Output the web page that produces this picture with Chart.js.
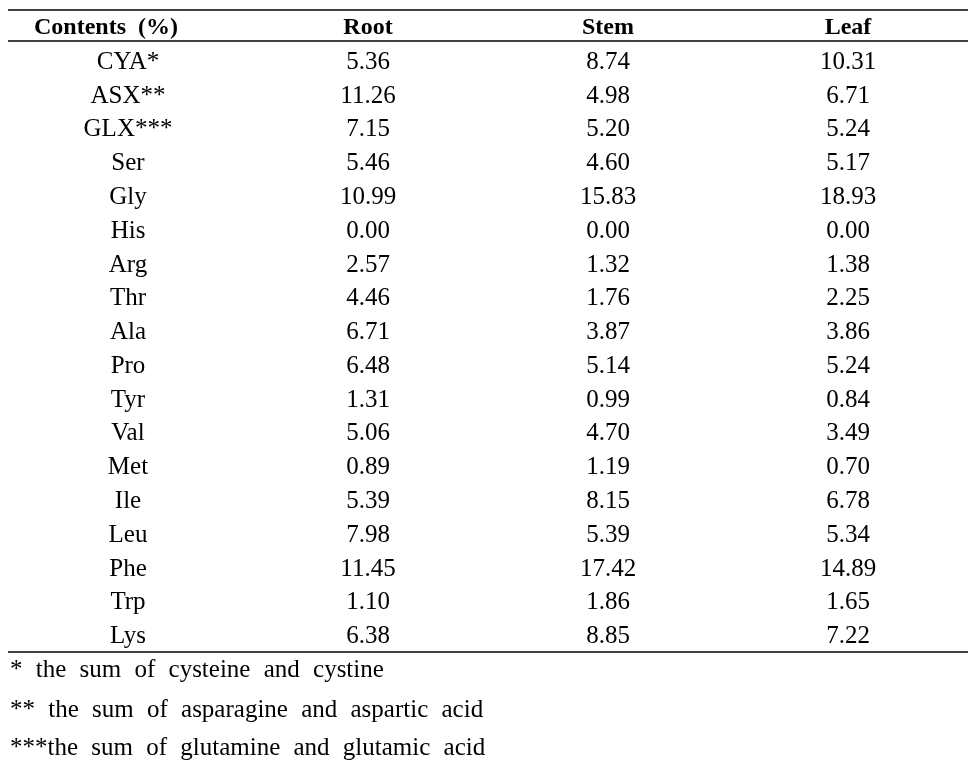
<!DOCTYPE html>
<html>
<head>
<meta charset="utf-8">
<script src="https://cdn.jsdelivr.net/npm/chart.js@4.4.1/dist/chart.umd.min.js"></script>
<style>
  body { margin: 0; background: #fff; font-family: "Liberation Serif", serif; }
  #wrap { width: 975px; height: 768px; }
</style>
</head>
<body>
<div id="wrap"><canvas id="aminoTable"></canvas></div>
<script>
// table contents
columnKeys = ['name', 'Root', 'Stem', 'Leaf'];
columnHeaders = ['Contents  (%)', 'Root', 'Stem', 'Leaf'];
aminoAcids = ['CYA*', 'ASX**', 'GLX***', 'Ser', 'Gly', 'His', 'Arg', 'Thr', 'Ala',
              'Pro', 'Tyr', 'Val', 'Met', 'Ile', 'Leu', 'Phe', 'Trp', 'Lys'];
rootValues = [5.36, 11.26, 7.15, 5.46, 10.99, 0.00, 2.57, 4.46, 6.71, 6.48, 1.31, 5.06, 0.89, 5.39, 7.98, 11.45, 1.10, 6.38];
stemValues = [8.74, 4.98, 5.20, 4.60, 15.83, 0.00, 1.32, 1.76, 3.87, 5.14, 0.99, 4.70, 1.19, 8.15, 5.39, 17.42, 1.86, 8.85];
leafValues = [10.31, 6.71, 5.24, 5.17, 18.93, 0.00, 1.38, 2.25, 3.86, 5.24, 0.84, 3.49, 0.70, 6.78, 5.34, 14.89, 1.65, 7.22];
footnotes = ['* the sum of cysteine and cystine',
             '** the sum of asparagine and aspartic acid',
             '***the sum of glutamine and glutamic acid'];

var serif = '"Liberation Serif", serif';

function cellData(key) {
    return aminoAcids.map(function (a) { return { x: key, y: a }; });
}

function hline(ctx, x1, x2, y) {
    ctx.beginPath();
    ctx.moveTo(x1, y);
    ctx.lineTo(x2, y);
    ctx.stroke();
}

// draws the text of every cell at the point the scales give it
var tablePlugin = {
    id: 'tableText',
    afterDatasetsDraw: function (chart) {
        var ctx = chart.ctx;
        var area = chart.chartArea;
        var xScale = chart.scales.x;
        ctx.save();
        ctx.fillStyle = '#000';
        ctx.strokeStyle = '#000';
        ctx.lineWidth = 1.4;
        ctx.textBaseline = 'alphabetic';
        ctx.textAlign = 'center';

        // rules
        hline(ctx, area.left, area.right, area.top - 34);
        hline(ctx, area.left, area.right, area.top - 3);
        hline(ctx, area.left, area.right, area.bottom);

        // header
        ctx.font = 'bold 24px ' + serif;
        columnHeaders.forEach(function (h, i) {
            var x = xScale.getPixelForValue(i);
            if (i === 0) x -= 22;
            ctx.fillText(h, x, area.top - 10);
        });

        // body cells
        ctx.font = '25px ' + serif;
        chart.data.datasets.forEach(function (ds, di) {
            var meta = chart.getDatasetMeta(di);
            meta.data.forEach(function (pt, j) {
                ctx.fillText(ds.texts[j], pt.x, pt.y + 8);
            });
        });

        // footnotes
        ctx.textAlign = 'left';
        ctx.wordSpacing = '7px';
        var offsets = [25, 65, 103];
        footnotes.forEach(function (f, i) {
            ctx.fillText(f, area.left + 2, area.bottom + offsets[i]);
        });
        ctx.restore();
    }
};

function build() {
    var ctx = document.getElementById('aminoTable').getContext('2d');
    aminoTable = new Chart(ctx, {
        type: 'scatter',
        data: {
            datasets: [
                { label: 'name', data: cellData('name'), texts: aminoAcids, pointRadius: 0 },
                { label: 'Root', data: cellData('Root'), texts: rootValues.map(function (v) { return v.toFixed(2); }), pointRadius: 0 },
                { label: 'Stem', data: cellData('Stem'), texts: stemValues.map(function (v) { return v.toFixed(2); }), pointRadius: 0 },
                { label: 'Leaf', data: cellData('Leaf'), texts: leafValues.map(function (v) { return v.toFixed(2); }), pointRadius: 0 }
            ]
        },
        options: {
            responsive: true,
            maintainAspectRatio: false,
            animation: false,
            events: [],
            layout: { padding: { left: 8, right: 7, top: 44, bottom: 116 } },
            plugins: { legend: { display: false }, tooltip: { enabled: false } },
            scales: {
                x: { type: 'category', labels: columnKeys, offset: true, display: false },
                y: { type: 'category', labels: aminoAcids, offset: true, display: false }
            }
        },
        plugins: [tablePlugin]
    });
}

Promise.all([
    document.fonts.load('25px "Liberation Serif"'),
    document.fonts.load('bold 24px "Liberation Serif"')
]).then(build, build);
</script>
</body>
</html>
